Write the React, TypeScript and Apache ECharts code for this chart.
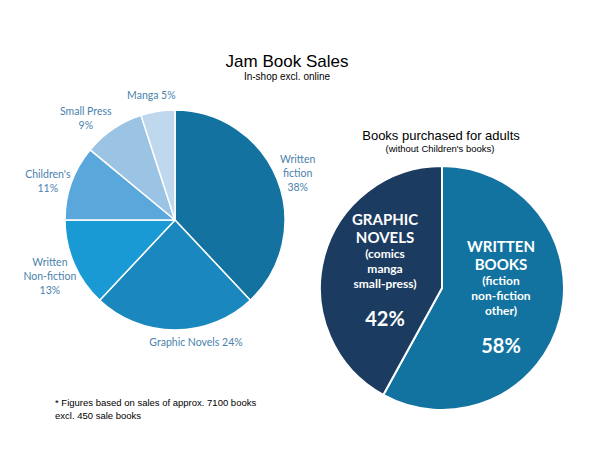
import React, { useEffect, useRef } from "react";
import * as echarts from "echarts";

const salesCategories = ["Written\nfiction", "Graphic Novels", "Written\nNon-fiction", "Children's", "Small Press", "Manga"];
const salesValues = [38, 24, 13, 11, 9, 5];
const salesColors = ["#1472A1", "#1A88BF", "#1A9AD5", "#5AA8DB", "#9BC3E3", "#BFD8EE"];
const inlineLabel = [false, true, false, false, false, true];

const adultCategories = ["WRITTEN\nBOOKS", "GRAPHIC\nNOVELS"];
const adultSub = ["(fiction\nnon-fiction\nother)", "(comics\nmanga\nsmall-press)"];
const adultValues = [58, 42];
const adultColors = ["#1273A0", "#1C3B60"];

const labelTweaks: [number, number][] = [[0, 2], [21, -10], [-4, 4], [-3, 6], [-15, 7], [-3, 5]];

export default function App() {
  const ref = useRef<HTMLDivElement>(null);
  useEffect(() => {
    document.body.style.margin = "0";
    const chart = echarts.init(ref.current!, null, { renderer: "svg" });
    const sans = "Liberation Sans";
    chart.setOption({
      animation: false,
      backgroundColor: "#ffffff",
      graphic: [
        { type: "text", x: 287, y: 61, style: { text: "Jam Book Sales", font: `17px '${sans}'`, fill: "#000", textAlign: "center", textVerticalAlign: "middle" } },
        { type: "text", x: 287, y: 76, style: { text: "In-shop excl. online", font: `10px '${sans}'`, fill: "#000", textAlign: "center", textVerticalAlign: "middle" } },
        { type: "text", x: 441, y: 135, style: { text: "Books purchased for adults", font: `13px '${sans}'`, fill: "#000", textAlign: "center", textVerticalAlign: "middle" } },
        { type: "text", x: 440, y: 148, style: { text: "(without Children's books)", font: `9.5px '${sans}'`, fill: "#000", textAlign: "center", textVerticalAlign: "middle" } },
        { type: "text", x: 55, y: 402, style: { text: "* Figures based on sales of approx. 7100 books", font: `9.5px '${sans}'`, fill: "#000", textAlign: "left", textVerticalAlign: "middle" } },
        { type: "text", x: 55, y: 415, style: { text: "excl. 450 sale books", font: `9.5px '${sans}'`, fill: "#000", textAlign: "left", textVerticalAlign: "middle" } },
      ],
      series: [
        {
          type: "pie",
          center: [175, 220],
          radius: [0, 110],
          startAngle: 90,
          clockwise: true,
          avoidLabelOverlap: false,
          itemStyle: { borderColor: "#ffffff", borderWidth: 1.5 },
          label: {
            show: true,
            position: "outside",
            distanceToLabelLine: 0,
            fontFamily: "Lato",
            fontSize: 10.5,
            lineHeight: 14,
            color: "#4A82AD",
            formatter: (p: any) => p.name + (inlineLabel[p.dataIndex] ? " " : "\n") + p.value + "%",
          },
          labelLine: { show: false, length: 22, length2: 0 },
          labelLayout: (p: any) => ({
            align: "center",
            verticalAlign: "middle",
            dx: labelTweaks[p.dataIndex][0],
            dy: labelTweaks[p.dataIndex][1],
          }),
          emphasis: { disabled: true },
          data: salesValues.map((v, i) => ({ name: salesCategories[i], value: v, itemStyle: { color: salesColors[i] } })),
        },
        {
          type: "pie",
          center: [442, 288],
          radius: [0, 122],
          startAngle: 90,
          clockwise: true,
          avoidLabelOverlap: false,
          itemStyle: { borderColor: "#ffffff", borderWidth: 2 },
          label: {
            show: true,
            position: "inside",
            color: "#fff",
            fontFamily: "Lato",
            fontWeight: "bold",
            formatter: (p: any) => {
              const t = p.name.split("\n").map((s: string) => `{t|${s}}`).join("\n");
              const s = adultSub[p.dataIndex].split("\n").map((x: string) => `{s|${x}}`).join("\n");
              return `${t}\n${s}\n{g| }\n{p|${p.value}%}`;
            },
            rich: {
              t: { fontFamily: "Lato", fontWeight: "bold", fontSize: 15, lineHeight: 18, color: "#fff" },
              s: { fontFamily: "Lato", fontWeight: "bold", fontSize: 12, lineHeight: 15, color: "#fff" },
              g: { fontSize: 8, lineHeight: 15 },
              p: { fontFamily: "Lato", fontWeight: "bold", fontSize: 20, lineHeight: 24, color: "#fff" },
            },
          },
          labelLine: { show: false },
          labelLayout: (p: any) => ({ dx: p.dataIndex === 0 ? -3 : 5, dy: p.dataIndex === 0 ? -7 : -2 }),
          emphasis: { disabled: true },
          data: adultValues.map((v, i) => ({ name: adultCategories[i], value: v, itemStyle: { color: adultColors[i] } })),
        },
      ],
    });
    return () => chart.dispose();
  }, []);
  return <div ref={ref} style={{ width: 602, height: 451 }} />;
}
